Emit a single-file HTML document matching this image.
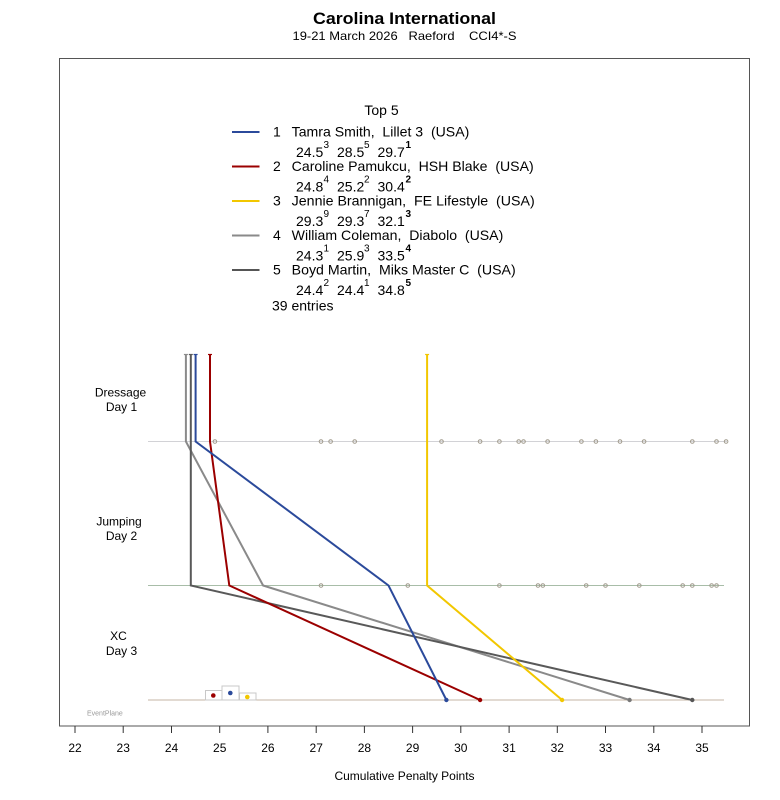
<!DOCTYPE html>
<html><head><meta charset="utf-8"><style>
html,body{margin:0;padding:0;background:#fff;}
svg{display:block;font-family:"Liberation Sans",Arial,sans-serif;}
text{white-space:pre;}
</style></head><body>
<svg width="780" height="800" viewBox="0 0 780 800" xmlns="http://www.w3.org/2000/svg">
<rect width="780" height="800" fill="#fff"/>
<!-- title -->
<text x="404.5" y="18.5" font-size="17" font-weight="bold" text-anchor="middle" dominant-baseline="central" textLength="183" lengthAdjust="spacingAndGlyphs">Carolina International</text>
<text x="404.5" y="36" font-size="12" text-anchor="middle" dominant-baseline="central" textLength="224" lengthAdjust="spacingAndGlyphs">19-21 March 2026   Raeford    CCI4*-S</text>
<!-- frame -->
<rect x="59.5" y="58.5" width="690" height="667.5" fill="none" stroke="#555" stroke-width="1"/>
<!-- legend -->
<text x="381.5" y="110" font-size="14" text-anchor="middle" dominant-baseline="central">Top 5</text>
<g stroke-width="2">
<line x1="232" y1="132" x2="259.5" y2="132" stroke="#2b4a9b"/>
<line x1="232" y1="166.5" x2="259.5" y2="166.5" stroke="#9b0000"/>
<line x1="232" y1="201" x2="259.5" y2="201" stroke="#f2c700"/>
<line x1="232" y1="235.5" x2="259.5" y2="235.5" stroke="#8a8a8a"/>
<line x1="232" y1="270" x2="259.5" y2="270" stroke="#555"/>
</g>
<g font-size="14" dominant-baseline="central">
<text x="273" y="131.5">1</text>
<text x="291.7" y="131.5" textLength="177.6" lengthAdjust="spacingAndGlyphs">Tamra Smith,  Lillet 3  (USA)</text>
<text x="273" y="166">2</text>
<text x="291.7" y="166" textLength="242" lengthAdjust="spacingAndGlyphs">Caroline Pamukcu,  HSH Blake  (USA)</text>
<text x="273" y="200.5">3</text>
<text x="291.7" y="200.5" textLength="243" lengthAdjust="spacingAndGlyphs">Jennie Brannigan,  FE Lifestyle  (USA)</text>
<text x="273" y="235">4</text>
<text x="291.7" y="235" textLength="211.6" lengthAdjust="spacingAndGlyphs">William Coleman,  Diabolo  (USA)</text>
<text x="273" y="269.5">5</text>
<text x="291.7" y="269.5" textLength="224" lengthAdjust="spacingAndGlyphs">Boyd Martin,  Miks Master C  (USA)</text>
<text x="272" y="305.5">39 entries</text>
</g>
<!-- scores -->
<g font-size="14" dominant-baseline="central">
<text x="296" y="152">24.5</text><text x="337" y="152">28.5</text><text x="377.5" y="152">29.7</text>
<text x="296" y="186.5">24.8</text><text x="337" y="186.5">25.2</text><text x="377.5" y="186.5">30.4</text>
<text x="296" y="221">29.3</text><text x="337" y="221">29.3</text><text x="377.5" y="221">32.1</text>
<text x="296" y="255.5">24.3</text><text x="337" y="255.5">25.9</text><text x="377.5" y="255.5">33.5</text>
<text x="296" y="290">24.4</text><text x="337" y="290">24.4</text><text x="377.5" y="290">34.8</text>
</g>
<g font-size="10" dominant-baseline="central">
<text x="323.5" y="145.5">3</text><text x="364" y="145.5">5</text><text x="405.5" y="145.5" font-weight="bold">1</text>
<text x="323.5" y="180">4</text><text x="364" y="180">2</text><text x="405.5" y="180" font-weight="bold">2</text>
<text x="323.5" y="214.5">9</text><text x="364" y="214.5">7</text><text x="405.5" y="214.5" font-weight="bold">3</text>
<text x="323.5" y="249">1</text><text x="364" y="249">3</text><text x="405.5" y="249" font-weight="bold">4</text>
<text x="323.5" y="283.5">2</text><text x="364" y="283.5">1</text><text x="405.5" y="283.5" font-weight="bold">5</text>
</g>
<!-- row labels -->
<g font-size="12" text-anchor="middle" dominant-baseline="central">
<text x="120.5" y="392.5">Dressage</text>
<text x="121.5" y="407">Day 1</text>
<text x="119" y="521.5">Jumping</text>
<text x="121.5" y="536">Day 2</text>
<text x="118.5" y="636">XC</text>
<text x="121.5" y="651">Day 3</text>
</g>
<!-- stage lines -->
<line x1="148" y1="441.5" x2="727" y2="441.5" stroke="#d2d2d6" stroke-width="1"/>
<line x1="148" y1="585.5" x2="724" y2="585.5" stroke="#a8bda8" stroke-width="1"/>
<line x1="148" y1="700" x2="724" y2="700" stroke="#c4b6a4" stroke-width="1"/>
<!-- dots dressage -->
<g fill="none" stroke="#a09a8c" stroke-width="1">
<circle cx="214.9" cy="441.5" r="1.8"/><circle cx="321" cy="441.5" r="1.8"/><circle cx="330.6" cy="441.5" r="1.8"/><circle cx="354.7" cy="441.5" r="1.8"/><circle cx="441.5" cy="441.5" r="1.8"/><circle cx="480.1" cy="441.5" r="1.8"/><circle cx="499.4" cy="441.5" r="1.8"/><circle cx="518.7" cy="441.5" r="1.8"/><circle cx="523.5" cy="441.5" r="1.8"/><circle cx="547.6" cy="441.5" r="1.8"/><circle cx="581.4" cy="441.5" r="1.8"/><circle cx="595.9" cy="441.5" r="1.8"/><circle cx="620" cy="441.5" r="1.8"/><circle cx="644.1" cy="441.5" r="1.8"/><circle cx="692.3" cy="441.5" r="1.8"/><circle cx="716.5" cy="441.5" r="1.8"/><circle cx="726.1" cy="441.5" r="1.8"/>
<circle cx="321" cy="585.5" r="1.8"/><circle cx="407.8" cy="585.5" r="1.8"/><circle cx="499.4" cy="585.5" r="1.8"/><circle cx="538" cy="585.5" r="1.8"/><circle cx="542.8" cy="585.5" r="1.8"/><circle cx="586.2" cy="585.5" r="1.8"/><circle cx="605.5" cy="585.5" r="1.8"/><circle cx="639.3" cy="585.5" r="1.8"/><circle cx="682.7" cy="585.5" r="1.8"/><circle cx="692.3" cy="585.5" r="1.8"/><circle cx="711.6" cy="585.5" r="1.8"/><circle cx="716.5" cy="585.5" r="1.8"/>
</g>
<!-- small boxes -->
<g fill="#fff" stroke="#c8c8c8" stroke-width="1">
<rect x="205.5" y="690.5" width="16.5" height="9.5"/>
<rect x="222" y="686" width="17" height="14"/>
<rect x="239.5" y="693" width="16.5" height="7"/>
</g>
<circle cx="213.3" cy="695.5" r="2.3" fill="#9b0000"/>
<circle cx="230.3" cy="693" r="2.3" fill="#2b4a9b"/>
<circle cx="247.3" cy="697" r="2.3" fill="#f2c700"/>
<!-- series -->
<g fill="none" stroke-width="2" stroke-linejoin="miter">
<polyline points="185.9,355 185.9,441.5 263.1,585.5 629.6,700" stroke="#8a8a8a"/>
<polyline points="190.8,355 190.8,441.5 190.8,585.5 692.3,700" stroke="#595959"/>
<polyline points="427.1,355 427.1,441.5 427.1,585.5 562.1,700" stroke="#f2c700"/>
<polyline points="210,355 210,441.5 229.3,585.5 480.1,700" stroke="#9b0000"/>
<polyline points="195.6,355 195.6,441.5 388.5,585.5 446.4,700" stroke="#2b4a9b"/>
</g>
<g stroke-width="1.2">
<line x1="183.9" y1="354.5" x2="187.9" y2="354.5" stroke="#8a8a8a"/>
<line x1="188.8" y1="354.5" x2="192.8" y2="354.5" stroke="#595959"/>
<line x1="193.6" y1="354.5" x2="197.6" y2="354.5" stroke="#2b4a9b"/>
<line x1="208" y1="354.5" x2="212" y2="354.5" stroke="#9b0000"/>
<line x1="425.1" y1="354.5" x2="429.1" y2="354.5" stroke="#f2c700"/>
</g>
<circle cx="446.4" cy="700" r="2.2" fill="#2b4a9b"/>
<circle cx="480.1" cy="700" r="2.2" fill="#9b0000"/>
<circle cx="562.1" cy="700" r="2.2" fill="#f2c700"/>
<circle cx="629.6" cy="700" r="2.2" fill="#777"/>
<circle cx="692.3" cy="700" r="2.2" fill="#555"/>
<text x="87" y="714" font-size="7" fill="#999" dominant-baseline="central">EventPlane</text>
<!-- x axis ticks -->
<g stroke="#333" stroke-width="1">
<line x1="75" y1="726" x2="75" y2="733"/><line x1="123.2" y1="726" x2="123.2" y2="733"/><line x1="171.5" y1="726" x2="171.5" y2="733"/><line x1="219.7" y1="726" x2="219.7" y2="733"/><line x1="267.9" y1="726" x2="267.9" y2="733"/><line x1="316.2" y1="726" x2="316.2" y2="733"/><line x1="364.4" y1="726" x2="364.4" y2="733"/><line x1="412.6" y1="726" x2="412.6" y2="733"/><line x1="460.8" y1="726" x2="460.8" y2="733"/><line x1="509.1" y1="726" x2="509.1" y2="733"/><line x1="557.3" y1="726" x2="557.3" y2="733"/><line x1="605.5" y1="726" x2="605.5" y2="733"/><line x1="653.8" y1="726" x2="653.8" y2="733"/><line x1="702" y1="726" x2="702" y2="733"/>
</g>
<g font-size="12" text-anchor="middle" dominant-baseline="central">
<text x="75" y="748">22</text><text x="123.2" y="748">23</text><text x="171.5" y="748">24</text><text x="219.7" y="748">25</text><text x="267.9" y="748">26</text><text x="316.2" y="748">27</text><text x="364.4" y="748">28</text><text x="412.6" y="748">29</text><text x="460.8" y="748">30</text><text x="509.1" y="748">31</text><text x="557.3" y="748">32</text><text x="605.5" y="748">33</text><text x="653.8" y="748">34</text><text x="702" y="748">35</text>
</g>
<text x="404.5" y="776" font-size="12" text-anchor="middle" dominant-baseline="central">Cumulative Penalty Points</text>
</svg>
</body></html>
